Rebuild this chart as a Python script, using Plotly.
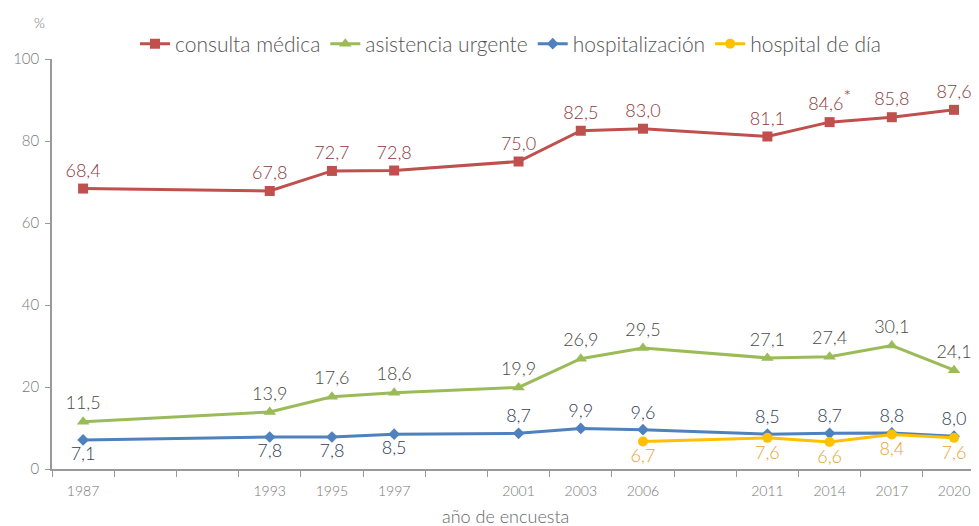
import plotly.graph_objects as go

slots = ["1987", " ", "  ", "1993", "1995", "1997", "   ", "2001", "2003", "2006", "    ", "2011", "2014", "2017", "2020"]

years_main = ["1987", "1993", "1995", "1997", "2001", "2003", "2006", "2011", "2014", "2017", "2020"]
consulta = [68.4, 67.8, 72.7, 72.8, 75.0, 82.5, 83.0, 81.1, 84.6, 85.8, 87.6]
consulta_lbl = ["68,4", "67,8", "72,7", "72,8", "75,0", "82,5", "83,0", "81,1",
                "84,6<sup><span style='font-size:18px'>*</span></sup>", "85,8", "87,6"]
urgente = [11.5, 13.9, 17.6, 18.6, 19.9, 26.9, 29.5, 27.1, 27.4, 30.1, 24.1]
urgente_lbl = ["11,5", "13,9", "17,6", "18,6", "19,9", "26,9", "29,5", "27,1", "27,4", "30,1", "24,1"]
hospital = [7.1, 7.8, 7.8, 8.5, 8.7, 9.9, 9.6, 8.5, 8.7, 8.8, 8.0]
hospital_lbl = ["7,1", "7,8", "7,8", "8,5", "8,7", "9,9", "9,6", "8,5", "8,7", "8,8", "8,0"]
hospital_pos = ["bottom center"] * 4 + ["top center"] * 7

years_dia = ["2006", "2011", "2014", "2017", "2020"]
dia = [6.7, 7.6, 6.6, 8.4, 7.6]
dia_lbl = ["6,7", "7,6", "6,6", "8,4", "7,6"]

FONT = "Lato, 'Open Sans', sans-serif"
RED, GREEN, BLUE, YEL = "#C0504D", "#9BBB59", "#4F81BD", "#FFC000"
LBL = dict(size=18, family=FONT, weight=300)

fig = go.Figure()
fig.add_trace(go.Scatter(
    x=years_main, y=consulta, name="consulta médica", mode="lines+markers+text",
    line=dict(color=RED, width=3), marker=dict(symbol="square", size=10, color=RED),
    text=consulta_lbl, textposition="top center",
    textfont=dict(LBL, color="#8B3A3A"), cliponaxis=False))
fig.add_trace(go.Scatter(
    x=years_main, y=urgente, name="asistencia urgente", mode="lines+markers+text",
    line=dict(color=GREEN, width=3), marker=dict(symbol="triangle-up", size=11, color=GREEN),
    text=urgente_lbl, textposition="top center",
    textfont=dict(LBL, color="#4A4A44"), cliponaxis=False))
fig.add_trace(go.Scatter(
    x=years_main, y=hospital, name="hospitalización", mode="lines+markers+text",
    line=dict(color=BLUE, width=3), marker=dict(symbol="diamond", size=9, color=BLUE),
    text=hospital_lbl, textposition=hospital_pos,
    textfont=dict(LBL, color="#2F4058"), cliponaxis=False))
fig.add_trace(go.Scatter(
    x=years_dia, y=dia, name="hospital de día", mode="lines+markers+text",
    line=dict(color=YEL, width=3), marker=dict(symbol="circle", size=10, color=YEL),
    text=dia_lbl, textposition="bottom center",
    textfont=dict(LBL, color="#E3A531"), cliponaxis=False))

fig.update_layout(
    width=979, height=526,
    margin=dict(l=44, r=0, t=51, b=65, autoexpand=False),
    paper_bgcolor="white", plot_bgcolor="white",
    font=dict(family=FONT, color="#666666"),
    showlegend=True,
    legend=dict(orientation="h", x=127 / 979, y=1 - 36 / 526, xref="container", yref="container",
                xanchor="left", yanchor="middle",
                font=dict(size=21, color="#555555", weight=300), itemwidth=30, tracegroupgap=0,
                bgcolor="rgba(0,0,0,0)"),
    xaxis=dict(type="category", categoryorder="array", categoryarray=slots,
               range=[-0.5, 14.53], tickson="boundaries", ticks="outside", ticklen=6,
               tickcolor="#999999", showline=True, linecolor="#999999", linewidth=1.5,
               showgrid=False, tickfont=dict(size=14, color="#777777", weight=300),
               ticklabelstandoff=8, automargin=False, fixedrange=True),
    yaxis=dict(range=[0, 100], tickvals=[0, 20, 40, 60, 80, 100], ticks="outside", ticklen=5,
               tickcolor="#999999", showline=True, linecolor="#999999", linewidth=1.5,
               showgrid=False, zeroline=False, tickfont=dict(size=15, color="#777777", weight=300),
               ticklabelstandoff=3, automargin=False),
)
fig.add_annotation(text="%", xref="paper", yref="paper", x=-0.005, y=1.09,
                   xanchor="right", yanchor="middle", showarrow=False,
                   font=dict(size=14, color="#777777", family=FONT, weight=300))
fig.add_annotation(text="año de encuesta", xref="paper", yref="paper", x=0.4845, y=-0.1146,
                   xanchor="center", yanchor="middle", showarrow=False,
                   font=dict(size=18, color="#666666", family=FONT, weight=300))
fig.write_html("out.html")
